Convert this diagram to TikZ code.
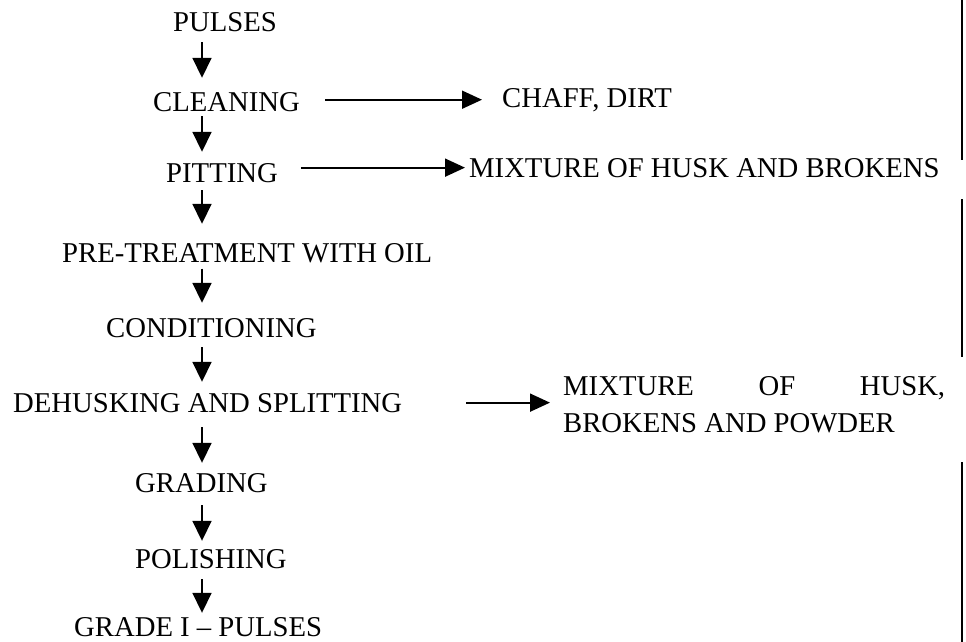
\documentclass[tikz,border=0pt]{standalone}
\usepackage{fontspec}
\setmainfont{Liberation Serif}
\usetikzlibrary{arrows.meta}
\begin{document}
\begin{tikzpicture}[x=1pt,y=-1pt,
  lbl/.style={anchor=base west, inner sep=0pt, font=\fontsize{28.7pt}{37pt}\selectfont},
  varrow/.style={line width=1.8pt, -{Triangle[length=20pt,width=19pt]}},
  harrow/.style={line width=1.8pt, -{Triangle[length=20pt,width=18pt]}},
  edgeline/.style={line width=2.4pt}]
\fill[white] (0,0) rectangle (966,642);
\useasboundingbox (0,0) rectangle (966,642);
\coordinate (col) at (202,0);
\node[lbl] (pulses) at (173,32) {PULSES};
\node[lbl] (cleaning) at (153,111) {CLEANING};
\node[lbl] (chaff) at (502,107) {CHAFF, DIRT};
\node[lbl] (pitting) at (166,182) {PITTING};
\node[lbl] (mix1) at (469,177) {MIXTURE OF HUSK AND BROKENS};
\node[lbl] (pre) at (62,262) {PRE-TREATMENT WITH OIL};
\node[lbl] (cond) at (106,337) {CONDITIONING};
\node[lbl] (dehusk) at (13,412) {DEHUSKING AND SPLITTING};
\node[lbl, align=left] (mix2) at (563,432) {\makebox[382pt][s]{MIXTURE OF HUSK,}\\BROKENS AND POWDER};
\node[lbl] (grading) at (135,492) {GRADING};
\node[lbl] (polish) at (135,568) {POLISHING};
\node[lbl] (grade) at (74,636) {GRADE I – PULSES};
% vertical flow
\draw[varrow, shorten <=10pt, shorten >=14pt] (pulses.south -| col) -- (cleaning.north -| col);
\draw[varrow, shorten <=5pt, shorten >=11pt] (cleaning.south -| col) -- (pitting.north -| col);
\draw[varrow, shorten <=8pt, shorten >=19pt] (pitting.south -| col) -- (pre.north -| col);
\draw[varrow, shorten <=6pt, shorten >=15pt] (pre.south -| col) -- (cond.north -| col);
\draw[varrow, shorten <=10pt, shorten >=11pt] (cond.south -| col) -- (dehusk.north -| col);
\draw[varrow, shorten <=15pt, shorten >=10pt] (dehusk.south -| col) -- (grading.north -| col);
\draw[varrow, shorten <=13pt, shorten >=8pt] (grading.south -| col) -- (polish.north -| col);
\draw[varrow, shorten <=11pt, shorten >=4pt] (polish.south -| col) -- (grade.north -| col);
% side outputs
\draw[harrow, shorten <=25pt, shorten >=20pt] (cleaning.east |- chaff.west) -- (chaff.west);
\draw[harrow, shorten <=23pt, shorten >=4pt] (pitting.east |- mix1.west) -- (mix1.west);
\draw[harrow, shorten <=64pt, shorten >=13pt] (dehusk.east) -- (dehusk.east -| mix2.west);
% right margin rule
\draw[edgeline] (962,0) -- (962,160);
\draw[edgeline] (962,199) -- (962,357);
\draw[edgeline] (962,462) -- (962,642);
\end{tikzpicture}
\end{document}
